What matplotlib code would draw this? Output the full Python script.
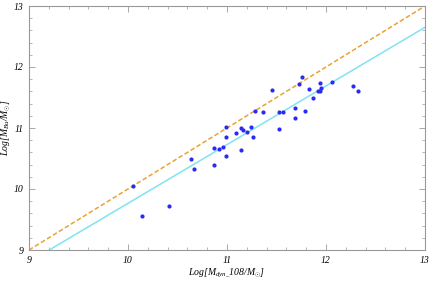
import numpy as np
import matplotlib
matplotlib.use("Agg")
import matplotlib.pyplot as plt
from matplotlib.ticker import MultipleLocator

plt.rcParams["font.family"] = "serif"
plt.rcParams["font.serif"] = ["Liberation Serif", "DejaVu Serif"]
plt.rcParams["font.style"] = "italic"
plt.rcParams["font.size"] = 7
plt.rcParams["mathtext.fontset"] = "custom"
plt.rcParams["mathtext.rm"] = "Liberation Serif"
plt.rcParams["mathtext.it"] = "Liberation Serif:italic"

# log dynamical mass vs log bulge mass
log_mdyn = [10.047, 10.144, 10.411, 10.639, 10.664, 10.869, 10.924, 10.866, 10.957,
            10.993, 11.144, 10.987, 10.993, 11.088, 11.138, 11.162, 11.205, 11.242,
            11.266, 11.283, 11.364, 11.455, 11.522, 11.569, 11.525, 11.690, 11.690,
            11.788, 11.727, 11.758, 11.825, 11.866, 11.922, 11.939, 11.953, 11.939,
            12.061, 12.270, 12.323]
log_mbu = [10.044, 9.552, 9.716, 10.497, 10.323, 10.672, 10.656, 10.389, 10.689,
           10.536, 10.644, 10.852, 11.011, 10.918, 10.995, 10.972, 10.930, 11.021,
           10.852, 11.279, 11.262, 11.623, 11.262, 11.257, 10.984, 11.328, 11.169,
           11.279, 11.721, 11.841, 11.644, 11.497, 11.607, 11.611, 11.656, 11.743,
           11.754, 11.693, 11.611]

# fitted relation
fit_slope = 0.962
fit_intercept = 0.145

fig = plt.figure(figsize=(4.31, 2.83), dpi=100)
ax = fig.add_axes([29 / 431, 33 / 283, 396 / 431, 244 / 283])

xx = np.linspace(9, 13, 200)
ax.plot(xx, xx, color="#E9A235", lw=1.1, ls=(0, (3, 1.6)), zorder=2)
ax.plot(xx, fit_slope * xx + fit_intercept, color="#7FE3F2", lw=1.1, zorder=2)
ax.scatter(log_mdyn, log_mbu, s=9, color="#2A2AF5", zorder=3, linewidths=0)

ax.set_xlim(9, 13)
ax.set_ylim(9, 13)
ax.xaxis.set_major_locator(MultipleLocator(1))
ax.xaxis.set_minor_locator(MultipleLocator(0.2))
ax.yaxis.set_major_locator(MultipleLocator(1))
ax.yaxis.set_minor_locator(MultipleLocator(0.2))
ax.tick_params(which="both", direction="in", top=True, right=True,
               color="#999999", labelsize=7)
ax.tick_params(axis="x", pad=4)
ax.tick_params(axis="y", pad=4)
ax.tick_params(which="major", length=4, width=0.6)
ax.tick_params(which="minor", length=2, width=0.5)
for s in ax.spines.values():
    s.set_color("#999999")
    s.set_linewidth(0.8)

ax.set_xlabel(r"$Log[M_{dyn\_}108/M_{\odot}]$", fontsize=7, labelpad=2)
ax.set_ylabel(r"$Log[M_{Bu}/M_{\odot}]$", fontsize=7, labelpad=1)

fig.savefig("out.png", dpi=100)
